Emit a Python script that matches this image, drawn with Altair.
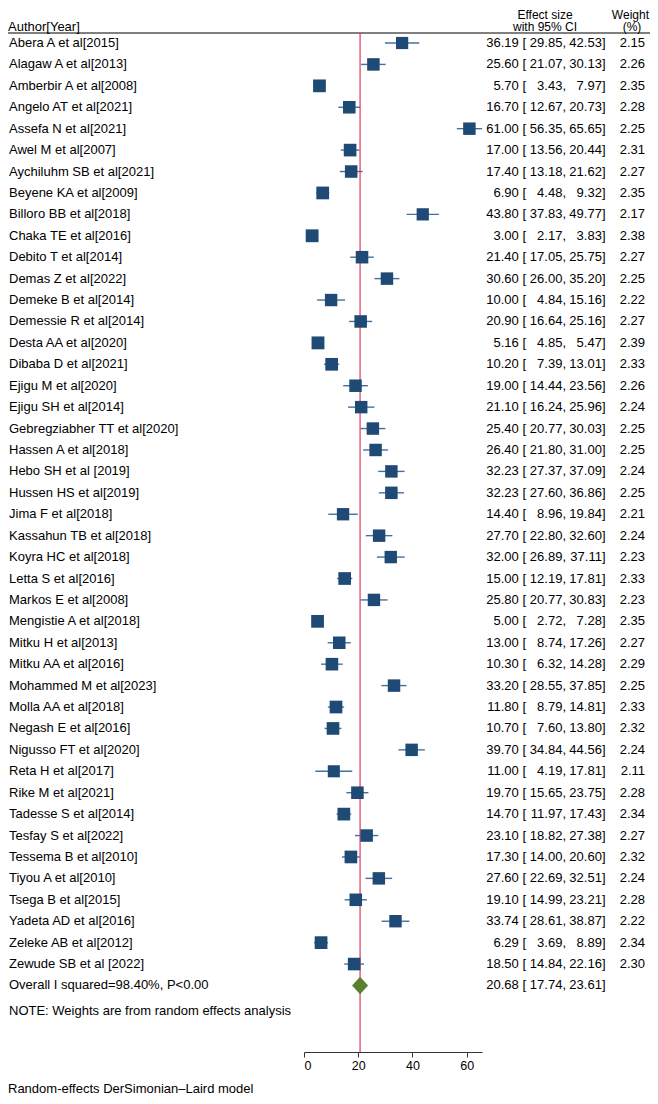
import altair as alt
import pandas as pd

# ---------------- data ----------------
authors = [
    "Abera A et al[2015]", "Alagaw A et al[2013]", "Amberbir A et al[2008]",
    "Angelo AT et al[2021]", "Assefa N et al[2021]", "Awel M et al[2007]",
    "Aychiluhm SB et al[2021]", "Beyene KA et al[2009]", "Billoro BB et al[2018]",
    "Chaka TE et al[2016]", "Debito T et al[2014]", "Demas Z et al[2022]",
    "Demeke B et al[2014]", "Demessie R et al[2014]", "Desta AA et al[2020]",
    "Dibaba D et al[2021]", "Ejigu M et al[2020]", "Ejigu SH et al[2014]",
    "Gebregziabher TT et al[2020]", "Hassen A et al[2018]", "Hebo SH et al [2019]",
    "Hussen HS et al[2019]", "Jima F et al[2018]", "Kassahun TB et al[2018]",
    "Koyra HC et al[2018]", "Letta S et al[2016]", "Markos E et al[2008]",
    "Mengistie A et al[2018]", "Mitku H et al[2013]", "Mitku AA et al[2016]",
    "Mohammed M et al[2023]", "Molla AA et al[2018]", "Negash E et al[2016]",
    "Nigusso FT et al[2020]", "Reta H et al[2017]", "Rike M et al[2021]",
    "Tadesse S et al[2014]", "Tesfay S et al[2022]", "Tessema B et al[2010]",
    "Tiyou A  et al[2010]", "Tsega B et al[2015]", "Yadeta AD et al[2016]",
    "Zeleke AB et al[2012]", "Zewude SB et al [2022]",
]
effect = [36.19, 25.60, 5.70, 16.70, 61.00, 17.00, 17.40, 6.90, 43.80, 3.00,
          21.40, 30.60, 10.00, 20.90, 5.16, 10.20, 19.00, 21.10, 25.40, 26.40,
          32.23, 32.23, 14.40, 27.70, 32.00, 15.00, 25.80, 5.00, 13.00, 10.30,
          33.20, 11.80, 10.70, 39.70, 11.00, 19.70, 14.70, 23.10, 17.30, 27.60,
          19.10, 33.74, 6.29, 18.50]
lower = [29.85, 21.07, 3.43, 12.67, 56.35, 13.56, 13.18, 4.48, 37.83, 2.17,
         17.05, 26.00, 4.84, 16.64, 4.85, 7.39, 14.44, 16.24, 20.77, 21.80,
         27.37, 27.60, 8.96, 22.80, 26.89, 12.19, 20.77, 2.72, 8.74, 6.32,
         28.55, 8.79, 7.60, 34.84, 4.19, 15.65, 11.97, 18.82, 14.00, 22.69,
         14.99, 28.61, 3.69, 14.84]
upper = [42.53, 30.13, 7.97, 20.73, 65.65, 20.44, 21.62, 9.32, 49.77, 3.83,
         25.75, 35.20, 15.16, 25.16, 5.47, 13.01, 23.56, 25.96, 30.03, 31.00,
         37.09, 36.86, 19.84, 32.60, 37.11, 17.81, 30.83, 7.28, 17.26, 14.28,
         37.85, 14.81, 13.80, 44.56, 17.81, 23.75, 17.43, 27.38, 20.60, 32.51,
         23.21, 38.87, 8.89, 22.16]
weight = [2.15, 2.26, 2.35, 2.28, 2.25, 2.31, 2.27, 2.35, 2.17, 2.38,
          2.27, 2.25, 2.22, 2.27, 2.39, 2.33, 2.26, 2.24, 2.25, 2.25,
          2.24, 2.25, 2.21, 2.24, 2.23, 2.33, 2.23, 2.35, 2.27, 2.29,
          2.25, 2.33, 2.32, 2.24, 2.11, 2.28, 2.34, 2.27, 2.32, 2.24,
          2.28, 2.22, 2.34, 2.30]
pooled_es, pooled_lo, pooled_hi = 20.68, 17.74, 23.61

overall_label = "Overall I squared=98.40%, P<0.00"
note_label = "NOTE: Weights are from random effects analysis"
footer_label = "Random-effects DerSimonian\u2013Laird model"
header_author = "Author[Year]"
header_effect = ["Effect size", "with 95% CI"]
header_weight = ["Weight", "(%)"]
x_ticks = [0, 20, 40, 60]

# ---------------- tables ----------------
rows = pd.DataFrame({"author": authors, "es": effect, "lo": lower, "hi": upper, "w": weight})
rows["r"] = range(len(authors))
rows["es_txt"] = [f"{v:.2f} [" for v in effect]
rows["lo_txt"] = [f"{v:.2f}," for v in lower]
rows["hi_txt"] = [f"{v:.2f}]" for v in upper]
rows["w_txt"] = [f"{v:.2f}" for v in weight]

n = len(authors)
pool = pd.DataFrame({
    "r": [n], "es": [pooled_es], "lo": [pooled_lo], "hi": [pooled_hi],
    "label": [overall_label],
    "es_txt": [f"{pooled_es:.2f} ["], "lo_txt": [f"{pooled_lo:.2f},"],
    "hi_txt": [f"{pooled_hi:.2f}]"],
})
one = pd.DataFrame({"k": [0]})

# ---------------- layout ----------------
W, H = 178, 1022
L, T, R, B = 296, 22, 168, 44
FONT = "Liberation Sans"
FS = 13
HFS = 12
LINE_Y = 33          # page y of the header rule
COL_ES, COL_LO, COL_HI, COL_W = 526, 566, 605.5, 645


def px(xp):
    return xp - (8 + L)


def py(yp):
    return yp - (8 + T)


row_step = 21.42
first_row = 13
yscale = alt.Scale(domain=[-first_row / row_step, (H - first_row) / row_step],
                   reverse=True, nice=False, zero=False)
xscale = alt.Scale(domain=[0, 65.65], nice=False, zero=False)
Y = alt.Y("r:Q", scale=yscale, axis=None)

header_rule = alt.Chart(one).mark_rule(color="#000000", strokeWidth=1).encode(
    x=alt.value(px(8)), x2=alt.value(px(650)), y=alt.value(py(LINE_Y)))

ref_rule = alt.Chart(one).mark_rule(color="#de3a5e", strokeWidth=1.2).encode(
    x=alt.datum(pooled_es, scale=xscale), y=alt.value(py(LINE_Y)), y2=alt.value(H))

ci = alt.Chart(rows).mark_rule(color="#46709c", strokeWidth=1.4).encode(
    x=alt.X("lo:Q", scale=xscale, title=None,
            axis=alt.Axis(values=x_ticks, grid=False, tickSize=5, labelPadding=2,
                          labelFontSize=12.5, labelColor="#000000", domainColor="#333333",
                          tickColor="#333333", labelFont=FONT, format="d")),
    x2="hi:Q", y=Y)

boxes = alt.Chart(rows).mark_square(filled=True, opacity=1, color="#1f4a75").encode(
    x=alt.X("es:Q", scale=xscale), y=Y,
    size=alt.Size("w:Q", scale=alt.Scale(domain=[0, 2.4], range=[0, 166]), legend=None))

diamond = alt.Chart(pool).mark_point(
    shape="M-1,0L0,-1.1L1,0L0,1.1Z", filled=True, opacity=1, color="#5b7f2d", size=256
).encode(x=alt.X("es:Q", scale=xscale), y=Y)


def text_col(data, field, xpos, align):
    return alt.Chart(data).mark_text(
        align=align, baseline="middle", font=FONT, fontSize=FS, color="#000000"
    ).encode(x=alt.value(px(xpos)), y=Y, text=f"{field}:N")


names = text_col(rows, "author", 9, "left")
es_t = text_col(rows, "es_txt", COL_ES, "right")
lo_t = text_col(rows, "lo_txt", COL_LO, "right")
hi_t = text_col(rows, "hi_txt", COL_HI, "right")
w_t = text_col(rows, "w_txt", COL_W, "right")

ov_label = text_col(pool, "label", 9, "left")
ov_es = text_col(pool, "es_txt", COL_ES, "right")
ov_lo = text_col(pool, "lo_txt", COL_LO, "right")
ov_hi = text_col(pool, "hi_txt", COL_HI, "right")


def fixed_text(txt, xpos, ypos, align, baseline="alphabetic", size=FS):
    return alt.Chart(one).mark_text(
        text=txt, align=align, baseline=baseline, font=FONT, fontSize=size, color="#000000"
    ).encode(x=alt.value(px(xpos)), y=alt.value(py(ypos)))


note = fixed_text(note_label, 9, 1011, "left", "middle")
h_author = fixed_text(header_author, 8, 31, "left")
h_eff1 = fixed_text(header_effect[0], 545, 19, "center", size=HFS)
h_eff2 = fixed_text(header_effect[1], 545, 31, "center", size=HFS)
h_w1 = fixed_text(header_weight[0], 649, 19, "right", size=HFS)
h_w2 = fixed_text(header_weight[1], 632, 31, "center", size=HFS)
footer = fixed_text(footer_label, 8, 1093, "left")

chart = alt.layer(
    header_rule, ci, ref_rule, boxes, diamond,
    names, es_t, lo_t, hi_t, w_t,
    ov_label, ov_es, ov_lo, ov_hi,
    note, h_author, h_eff1, h_eff2, h_w1, h_w2, footer,
).properties(
    width=W, height=H,
    padding={"left": L, "top": T, "right": R, "bottom": B},
    autosize=alt.AutoSizeParams(type="none"),
).configure(font=FONT).configure_view(strokeWidth=0, stroke="transparent")

chart.save("out.html", embed_options={"renderer": "svg", "actions": False})
